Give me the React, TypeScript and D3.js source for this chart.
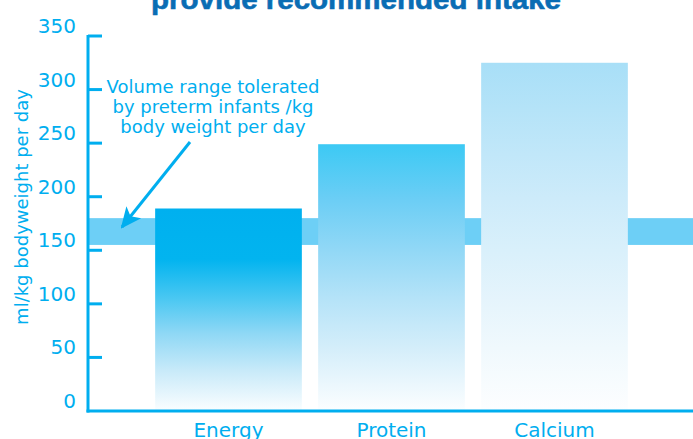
import React from "react";
import * as d3 from "d3";

// chart values
const categories = ["Energy", "Protein", "Calcium"];
const values = [189, 249, 325];
const yTicks = [0, 50, 100, 150, 200, 250, 300, 350];
const toleratedRange = [155, 180];
const annotationLines = ["Volume range tolerated", "by preterm infants /kg", "body weight per day"];

// gradient stops per bar, [offset, colour] from top to bottom
const barGradients = [
  [[0, "#00b0ef"], [0.25, "#02b4ef"], [0.45, "#4cc8f2"], [0.62, "#90d8f5"], [0.8, "#c8eaf9"], [1, "#fbfeff"]],
  [[0, "#3cc9f4"], [0.21, "#6ccef5"], [0.4, "#92d8f6"], [0.58, "#b5e3f8"], [0.77, "#d5eefa"], [1, "#fcfeff"]],
  [[0, "#a8dff7"], [0.39, "#cdebfa"], [0.54, "#d9f0fb"], [0.68, "#e5f4fc"], [0.82, "#f0f9fd"], [1, "#fdfeff"]],
];

const W = 693;
const H = 439;
const BLUE = "#00aeef";
const FONT = "'DejaVu Sans', sans-serif";

const App = () => {
  const y = d3.scaleLinear().domain([0, 350]).range([411, 36]);
  const x = d3.scaleBand().domain(categories).range([147, 636]).paddingInner(0.1).paddingOuter(0.05);
  const axisX = 88;

  return (
    <svg width={W} height={H} style={{ position: "absolute", left: 0, top: 0, display: "block", background: "#fff" }}>
      <defs>
        {barGradients.map((stops, i) => (
          <linearGradient key={i} id={`bar-grad-${i}`} x1="0" y1="0" x2="0" y2="1">
            {stops.map(([o, c], j) => (
              <stop key={j} offset={`${(o as number) * 100}%`} stopColor={c as string} />
            ))}
          </linearGradient>
        ))}
        <marker id="arrowhead" viewBox="0 0 10 10" refX="9" refY="5" markerWidth="21" markerHeight="21"
          markerUnits="userSpaceOnUse" orient="auto">
          <path d="M0,0.5 L10,5 L0,9.5 L2.5,5 Z" fill={BLUE} />
        </marker>
      </defs>

      {/* title, cut off at top */}
      <text x={356} y={9} textAnchor="middle" fontFamily="'Liberation Sans', Arial, sans-serif" fontWeight="bold"
        fontSize={28} fill="#0a6db4" stroke="#0a6db4" strokeWidth={0.6} textLength={410} lengthAdjust="spacingAndGlyphs">
        provide recommended intake
      </text>

      {/* tolerated band */}
      <rect x={axisX} y={y(toleratedRange[1])} width={W - axisX} height={y(toleratedRange[0]) - y(toleratedRange[1])} fill="#6dcff6" />

      {/* bars */}
      {categories.map((c, i) => (
        <rect key={c} x={x(c)} y={y(values[i])} width={x.bandwidth()} height={y(0) - y(values[i])} fill={`url(#bar-grad-${i})`} />
      ))}

      {/* axes */}
      <line x1={axisX} x2={axisX} y1={y(350) - 1} y2={y(0) + 1.5} stroke={BLUE} strokeWidth={3} />
      <line x1={axisX - 1.5} x2={W} y1={y(0)} y2={y(0)} stroke={BLUE} strokeWidth={3} />
      {yTicks.map((t) => (
        <g key={t}>
          {t > 0 && <line x1={axisX} x2={axisX + 14} y1={y(t)} y2={y(t)} stroke={BLUE} strokeWidth={3} />}
          <text x={76} y={y(t) - 3} textAnchor="end" fontFamily={FONT} fontSize={20} fill={BLUE}>
            {t}
          </text>
        </g>
      ))}

      {/* y axis title */}
      <text transform={`translate(28,${207}) rotate(-90)`} textAnchor="middle" fontFamily={FONT} fontSize={18} fill={BLUE}>
        ml/kg bodyweight per day
      </text>

      {/* category labels */}
      {categories.map((c) => (
        <text key={c} x={(x(c) as number) + x.bandwidth() / 2} y={437} textAnchor="middle" fontFamily={FONT} fontSize={20} fill={BLUE}>
          {c}
        </text>
      ))}

      {/* annotation */}
      {annotationLines.map((l, i) => (
        <text key={i} x={213} y={93 + i * 20} textAnchor="middle" fontFamily={FONT} fontSize={18} fill={BLUE}>
          {l}
        </text>
      ))}
      <line x1={190} y1={142} x2={122} y2={227} stroke={BLUE} strokeWidth={3} markerEnd="url(#arrowhead)" />
    </svg>
  );
};

export default App;
